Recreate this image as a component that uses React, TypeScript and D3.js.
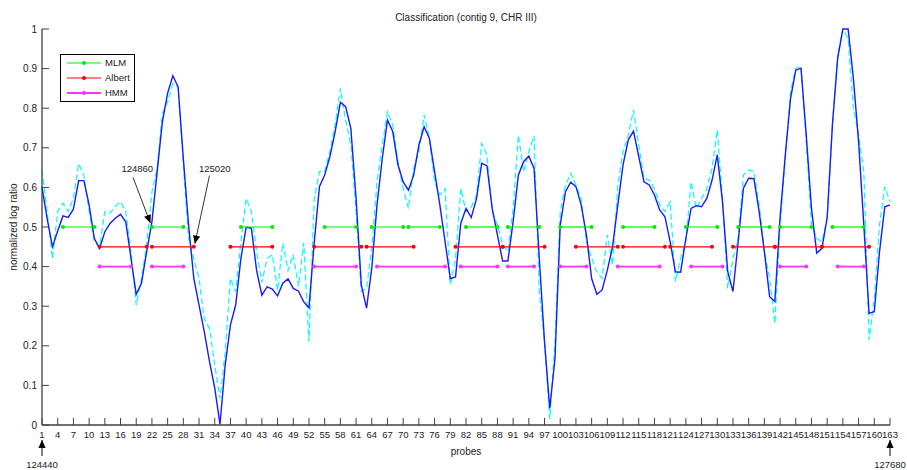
import React from "react";
import * as d3 from "d3";

const smoothed: number[] = [
  0.600, 0.520, 0.450, 0.490, 0.528, 0.524, 0.545, 0.617, 0.617, 0.556,
  0.471, 0.446, 0.488, 0.509, 0.522, 0.532, 0.513, 0.421, 0.330, 0.358,
  0.438, 0.513, 0.640, 0.766, 0.838, 0.882, 0.854, 0.673, 0.505, 0.370,
  0.303, 0.236, 0.160, 0.093, 0.002, 0.152, 0.253, 0.303, 0.421, 0.499,
  0.497, 0.390, 0.328, 0.349, 0.343, 0.326, 0.358, 0.369, 0.345, 0.338,
  0.311, 0.296, 0.460, 0.602, 0.631, 0.678, 0.741, 0.815, 0.804, 0.749,
  0.572, 0.354, 0.295, 0.396, 0.556, 0.673, 0.770, 0.741, 0.657, 0.614,
  0.593, 0.631, 0.707, 0.753, 0.724, 0.640, 0.556, 0.463, 0.370, 0.374,
  0.509, 0.547, 0.524, 0.571, 0.661, 0.655, 0.547, 0.480, 0.414, 0.414,
  0.513, 0.631, 0.665, 0.679, 0.648, 0.421, 0.210, 0.042, 0.168, 0.505,
  0.589, 0.613, 0.602, 0.556, 0.480, 0.370, 0.330, 0.341, 0.391, 0.450,
  0.556, 0.657, 0.720, 0.742, 0.678, 0.614, 0.606, 0.581, 0.543, 0.526,
  0.463, 0.387, 0.386, 0.471, 0.547, 0.554, 0.551, 0.572, 0.618, 0.682,
  0.564, 0.387, 0.337, 0.463, 0.598, 0.623, 0.622, 0.539, 0.438, 0.324,
  0.312, 0.524, 0.682, 0.825, 0.896, 0.901, 0.732, 0.547, 0.434, 0.446,
  0.524, 0.758, 0.926, 1.000, 1.000, 0.876, 0.715, 0.505, 0.282, 0.286,
  0.438, 0.551, 0.556,
];

const raw: number[] = [
  0.644, 0.538, 0.420, 0.539, 0.560, 0.539, 0.572, 0.660, 0.630, 0.540,
  0.463, 0.450, 0.539, 0.535, 0.552, 0.564, 0.539, 0.438, 0.303, 0.370,
  0.455, 0.589, 0.648, 0.787, 0.816, 0.863, 0.854, 0.657, 0.471, 0.421,
  0.370, 0.269, 0.244, 0.152, 0.067, 0.185, 0.370, 0.337, 0.463, 0.572,
  0.539, 0.438, 0.360, 0.420, 0.430, 0.340, 0.460, 0.390, 0.430, 0.350,
  0.460, 0.210, 0.570, 0.640, 0.640, 0.690, 0.760, 0.850, 0.770, 0.707,
  0.539, 0.337, 0.345, 0.446, 0.614, 0.707, 0.791, 0.758, 0.665, 0.597,
  0.547, 0.648, 0.690, 0.783, 0.724, 0.614, 0.581, 0.597, 0.354, 0.421,
  0.597, 0.539, 0.550, 0.580, 0.711, 0.682, 0.539, 0.505, 0.455, 0.438,
  0.547, 0.732, 0.640, 0.690, 0.730, 0.337, 0.210, 0.015, 0.210, 0.539,
  0.606, 0.636, 0.606, 0.572, 0.463, 0.421, 0.387, 0.370, 0.480, 0.404,
  0.606, 0.690, 0.732, 0.795, 0.707, 0.623, 0.619, 0.597, 0.556, 0.539,
  0.564, 0.362, 0.421, 0.463, 0.614, 0.547, 0.572, 0.597, 0.648, 0.745,
  0.572, 0.345, 0.421, 0.471, 0.631, 0.644, 0.640, 0.556, 0.438, 0.370,
  0.257, 0.505, 0.673, 0.842, 0.901, 0.905, 0.715, 0.505, 0.471, 0.463,
  0.522, 0.758, 0.934, 1.000, 0.976, 0.800, 0.732, 0.640, 0.215, 0.320,
  0.505, 0.602, 0.564,
];

const mlmSegments: [number, number][] = [
  [5, 11], [22, 28], [39, 45], [55, 61], [64, 70], [71, 77], [82, 88], [90, 96],
  [100, 106], [112, 118], [124, 130], [134, 140], [142, 148], [152, 158],
];
const albertSegments: [number, number][] = [
  [12, 21], [22, 30], [37, 45], [53, 62], [63, 72], [80, 89], [89, 97],
  [103, 111], [112, 120], [121, 129], [133, 141], [141, 150], [150, 159],
];
const hmmSegments: [number, number][] = [
  [12, 18], [22, 28], [53, 61], [65, 78], [81, 88], [90, 95], [100, 105],
  [111, 119], [125, 131], [142, 147], [153, 158],
];

const methodNames = ["MLM", "Albert", "HMM"];
const methodLevels = [0.5, 0.45, 0.4];
const methodColors = ["#00ee00", "#ff0000", "#ff33ff"];

const xTickValues = d3.range(1, 164, 3);
const yTickValues = [0, 0.1, 0.2, 0.3, 0.4, 0.5, 0.6, 0.7, 0.8, 0.9, 1];

// annotations: label, text position (probe, value), arrow tail and tip (probe, value)
const annoLabels = ["124860", "125020"];
const annoText: [number, number][] = [[19.2, 0.64], [34, 0.64]];
const annoFrom: [number, number][] = [[18.4, 0.625], [33.0, 0.63]];
const annoTip: [number, number][] = [[21.7, 0.51], [30.2, 0.458]];

const endLabels = ["124440", "127680"];
const endProbes = [1, 163];

const W = 907;
const H = 470;
const margin = { left: 42, right: 17, top: 29, bottom: 45 };

export default function App() {
  const x = d3.scaleLinear().domain([1, 163]).range([margin.left, W - margin.right]);
  const y = d3.scaleLinear().domain([0, 1]).range([H - margin.bottom, margin.top]);
  const probes = d3.range(1, 164);

  const line = d3
    .line<number>()
    .x((_, i) => x(probes[i]))
    .y((d) => y(d));

  const font = "'Liberation Sans', Arial, Helvetica, sans-serif";
  const axisColor = "#404040";
  const segLists = [mlmSegments, albertSegments, hmmSegments];

  const x0 = x(1);
  const yBase = y(0);

  return (
    <svg
      width={W}
      height={H}
      style={{ position: "absolute", left: 0, top: 0, background: "#fff" }}
      fontFamily={font}
    >
      <defs>
        <marker
          id="arrowHead"
          viewBox="0 0 10 10"
          refX="10"
          refY="5"
          markerWidth="9"
          markerHeight="8"
          markerUnits="userSpaceOnUse"
          orient="auto"
        >
          <path d="M0,0.5 L10,5 L0,9.5 Z" fill="#000" />
        </marker>
      </defs>
      <rect x={0} y={0} width={W} height={H} fill="#fff" />

      {/* raw data (cyan dashed) */}
      <path d={line(raw) || ""} fill="none" stroke="#00ffff" strokeWidth={1.2} strokeDasharray="6,3" />
      {/* smoothed (blue) */}
      <path d={line(smoothed) || ""} fill="none" stroke="#1a1aff" strokeWidth={1.4} />

      {/* segments */}
      {segLists.map((segs, m) =>
        segs.map((s, i) => (
          <g key={`s${m}-${i}`}>
            <line
              x1={x(s[0])}
              x2={x(s[1])}
              y1={y(methodLevels[m])}
              y2={y(methodLevels[m])}
              stroke={methodColors[m]}
              strokeWidth={m === 2 ? 1.8 : 1.2}
            />
            <circle cx={x(s[0])} cy={y(methodLevels[m])} r={2} fill={methodColors[m]} />
            <circle cx={x(s[1])} cy={y(methodLevels[m])} r={2} fill={methodColors[m]} />
          </g>
        ))
      )}

      {/* axes */}
      <line x1={x0} x2={x0} y1={y(1)} y2={yBase} stroke={axisColor} strokeWidth={1.3} />
      <line x1={x0} x2={x(163)} y1={yBase} y2={yBase} stroke={axisColor} strokeWidth={1.3} />
      {yTickValues.map((t) => (
        <g key={`yt${t}`}>
          <line x1={x0} x2={x0 + 7} y1={y(t)} y2={y(t)} stroke={axisColor} strokeWidth={1} />
          <text x={x0 - 5} y={y(t)} dy="0.35em" textAnchor="end" fontSize={10} fill="#222">
            {t}
          </text>
        </g>
      ))}
      {xTickValues.map((t) => (
        <g key={`xt${t}`}>
          <line x1={x(t)} x2={x(t)} y1={yBase} y2={yBase - 7} stroke={axisColor} strokeWidth={1} />
          <text x={x(t)} y={yBase + 13} textAnchor="middle" fontSize={9.5} fill="#222">
            {t}
          </text>
        </g>
      ))}

      {/* title and labels */}
      <text x={(x(1) + x(163)) / 2} y={21} textAnchor="middle" fontSize={10} fill="#222">
        Classification (contig 9, CHR III)
      </text>
      <text x={(x(1) + x(163)) / 2} y={455} textAnchor="middle" fontSize={10} fill="#222">
        probes
      </text>
      <text
        transform={`translate(17,${(y(0) + y(1)) / 2}) rotate(-90)`}
        textAnchor="middle"
        fontSize={10}
        fill="#222"
      >
        normalized log ratio
      </text>

      {/* end arrows */}
      {endProbes.map((p, i) => (
        <g key={`end${i}`}>
          <line x1={x(p)} x2={x(p)} y1={456} y2={440} stroke="#000" strokeWidth={1} markerEnd="url(#arrowHead)" />
          <text x={x(p)} y={468} textAnchor="middle" fontSize={9.5} fill="#222">
            {endLabels[i]}
          </text>
        </g>
      ))}

      {/* annotations */}
      {annoLabels.map((lab, i) => (
        <g key={`an${i}`}>
          <text x={x(annoText[i][0])} y={y(annoText[i][1])} textAnchor="middle" fontSize={9.5} fill="#222">
            {lab}
          </text>
          <line
            x1={x(annoFrom[i][0])}
            y1={y(annoFrom[i][1])}
            x2={x(annoTip[i][0])}
            y2={y(annoTip[i][1])}
            stroke="#000"
            strokeWidth={0.8}
            markerEnd="url(#arrowHead)"
          />
        </g>
      ))}

      {/* legend */}
      <g>
        <rect x={60.5} y={54.5} width={74} height={47} fill="#fff" stroke="#000" strokeWidth={1} />
        {methodNames.map((n, i) => {
          const ly = 63 + i * 15;
          return (
            <g key={`lg${i}`}>
              <line x1={67} x2={101} y1={ly} y2={ly} stroke={methodColors[i]} strokeWidth={i === 2 ? 1.8 : 1.2} />
              <circle cx={84} cy={ly} r={2} fill={methodColors[i]} />
              <text x={105} y={ly} dy="0.35em" fontSize={9.5} fill="#222">
                {n}
              </text>
            </g>
          );
        })}
      </g>
    </svg>
  );
}
